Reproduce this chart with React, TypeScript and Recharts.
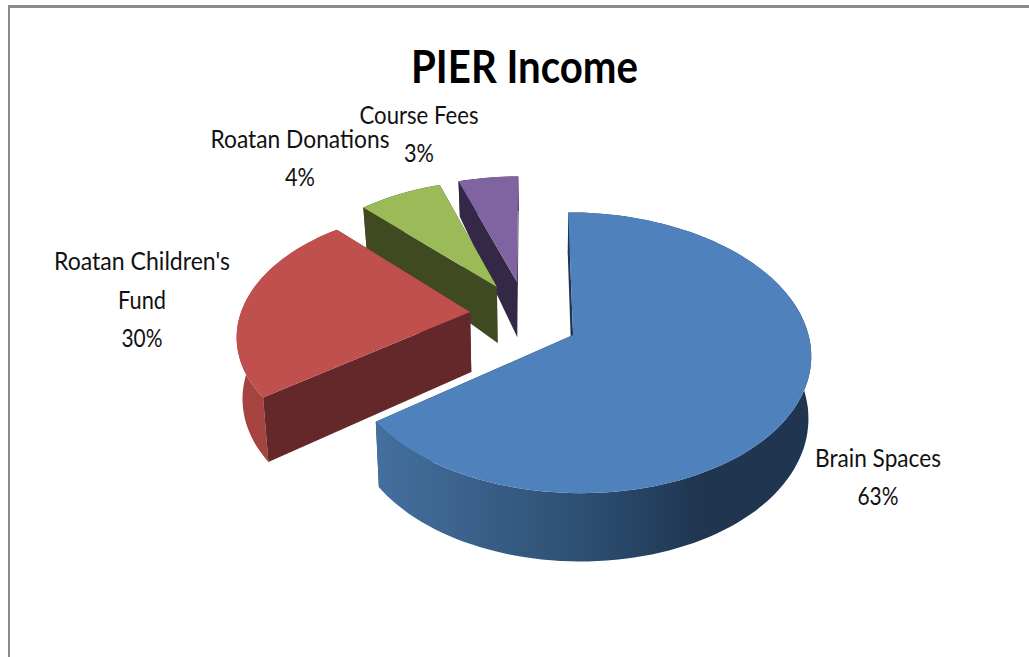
import { PieChart, Pie } from 'recharts';

const categories = ['Brain Spaces', "Roatan Children's Fund", 'Roatan Donations', 'Course Fees'];
// the printed percentages do not agree with the slice sizes in the picture, so both are kept as read
const sliceSizes = [64.9, 22.9, 7.1, 5.1];
const printedPercents = ['63%', '30%', '4%', '3%'];

const topColors = ['#4f81bd', '#c0504d', '#9bbb59', '#8064a2'];
const wallColors = ['#1f3550', '#64272a', '#3f4a22', '#332845'];
const rimColors = ['url(#blueRim)', '#a5433f', '#3f4a22', '#332845'];

// how far each slice is pulled out of the pie, in radius units
const explodeX = [0.183, -0.26, -0.147, -0.058];
const explodeY = [-0.185, -0.015, 0.178, 0.218];
// radius at the clockwise-first and clockwise-last edge of each slice, and how late it tapers
const radiusFrom = [1, 1.008, 0.945, 0.94];
const radiusTo = [0.98, 0.935, 0.945, 0.94];
const taperPower = [8, 2, 1, 1];

const labelLayout = [
    [{ text: 'Brain Spaces', x: 878, y: 467, w: 126 }, { text: '', x: 878, y: 505, w: 41 }],
    [{ text: "Roatan Children's", x: 142, y: 270, w: 176 }, { text: 'Fund', x: 142, y: 309, w: 48 }, { text: '', x: 142, y: 347, w: 41 }],
    [{ text: 'Roatan Donations', x: 300, y: 148, w: 179 }, { text: '', x: 300, y: 186, w: 30 }],
    [{ text: 'Course Fees', x: 419, y: 124, w: 119 }, { text: '', x: 419, y: 162, w: 30 }],
];

// painted back to front, going counter-clockwise from 12 o'clock
const tableData = categories
    .map((name, index) => ({ name, value: sliceSizes[index], index }))
    .reverse();

const PERSPECTIVE = 0.125;
const SQUASH = 132 / 230;

const SliceShape = (props: any) => {
    const { cx, cy, outerRadius, startAngle, endAngle, payload } = props;
    const i = payload.index;

    const top = (wx: number, wy: number) => {
        const s = 1 / (1 + PERSPECTIVE * wy);
        return { x: cx + outerRadius * wx * s, y: cy - outerRadius * SQUASH * wy * s };
    };
    const bottom = (wx: number, wy: number) => {
        const p = top(wx, wy);
        const depth = wy < 0 ? 60 - 7 * wy : 60 - 22 * wy;
        const shrink = p.x < cx ? 0.98 : 0.99;
        return { x: cx + (p.x - cx) * shrink, y: p.y + depth };
    };

    const from = 450 - endAngle;
    const to = 450 - startAngle;

    const rimPoint = (deg: number) => {
        const rad = (deg * Math.PI) / 180;
        const along = (deg - from) / (to - from);
        const r = radiusFrom[i] + (radiusTo[i] - radiusFrom[i]) * Math.pow(along, taperPower[i]);
        return [explodeX[i] + r * Math.sin(rad), explodeY[i] + r * Math.cos(rad)];
    };
    const toPath = (pts: { x: number; y: number }[]) =>
        'M' + pts.map((p) => `${p.x.toFixed(1)},${p.y.toFixed(1)}`).join('L') + 'Z';

    const rim: number[][] = [];
    for (let a = from; a < to; a += 2) rim.push(rimPoint(a));
    rim.push(rimPoint(to));

    const apex = [explodeX[i], explodeY[i]];
    const first = rim[0];
    const last = rim[rim.length - 1];

    const rimWall = toPath([
        ...rim.map((r) => top(r[0], r[1])),
        ...[...rim].reverse().map((r) => bottom(r[0], r[1])),
    ]);
    const wallA = toPath([top(apex[0], apex[1]), top(first[0], first[1]), bottom(first[0], first[1]), bottom(apex[0], apex[1])]);
    const wallB = toPath([top(apex[0], apex[1]), top(last[0], last[1]), bottom(last[0], last[1]), bottom(apex[0], apex[1])]);
    const face = toPath([top(apex[0], apex[1]), ...rim.map((r) => top(r[0], r[1]))]);

    return (
        <g>
            <defs>
                <linearGradient id="blueRim" gradientUnits="userSpaceOnUse" x1={376} y1={0} x2={812} y2={0}>
                    <stop offset="0" stopColor="#44709f" />
                    <stop offset="0.5" stopColor="#2c4d6f" />
                    <stop offset="0.75" stopColor="#1f3550" />
                    <stop offset="1" stopColor="#1f3550" />
                </linearGradient>
            </defs>
            <path d={wallB} fill={wallColors[i]} />
            <path d={rimWall} fill={rimColors[i]} />
            <path d={wallA} fill={wallColors[i]} />
            <path d={face} fill={topColors[i]} />
        </g>
    );
};

const renderLabel = (props: any) => {
    const i = props.payload?.index ?? props.index;
    return (
        <g>
            {labelLayout[i].map((line, n) => (
                <text
                    key={n}
                    x={line.x}
                    y={line.y}
                    textAnchor="middle"
                    fontFamily="Lato"
                    fontSize={25}
                    fill="#111"
                    textLength={line.w}
                    lengthAdjust="spacingAndGlyphs"
                >
                    {line.text || printedPercents[i]}
                </text>
            ))}
        </g>
    );
};

export default function App() {
    return (
        <div style={{ position: 'fixed', left: 0, top: 0, width: 1029, height: 657, overflow: 'hidden', background: '#fff' }}>
            <div style={{ position: 'absolute', left: 8, top: 5, width: 1100, height: 700, borderTop: '3px solid #8a8a8a', borderLeft: '2px solid #8a8a8a' }} />
            <div style={{ position: 'absolute', left: 0, top: 0 }}>
                <PieChart width={1029} height={657} margin={{ top: 0, right: 0, bottom: 0, left: 0 }}>
                    <text x={524.5} y={83} textAnchor="middle" fontFamily="Lato" fontWeight={700} fontSize={46} fill="#000" textLength={227} lengthAdjust="spacingAndGlyphs">
                        PIER Income
                    </text>
                    <Pie
                        data={tableData}
                        dataKey="value"
                        nameKey="name"
                        cx={530}
                        cy={310}
                        innerRadius={0}
                        outerRadius={230}
                        startAngle={90}
                        endAngle={450}
                        stroke="none"
                        shape={SliceShape}
                        label={renderLabel}
                        labelLine={false}
                        isAnimationActive={false}
                    />
                </PieChart>
            </div>
        </div>
    );
}
